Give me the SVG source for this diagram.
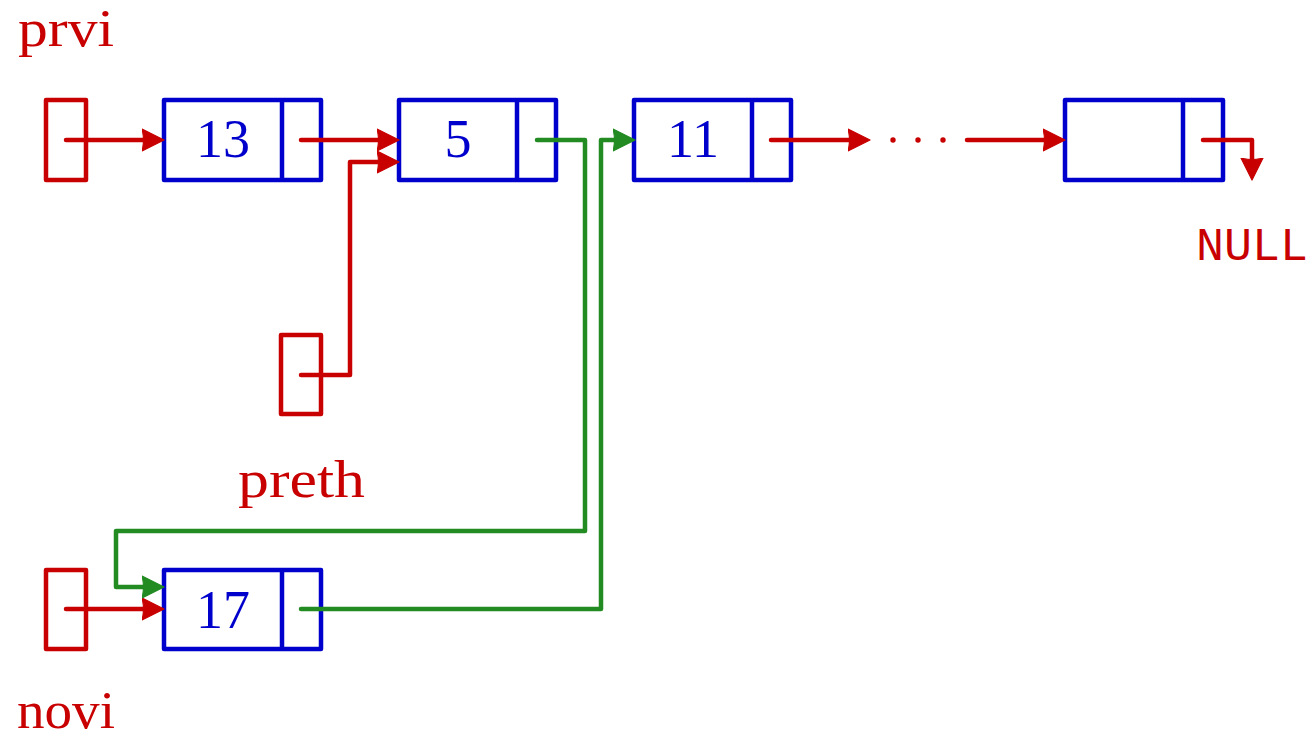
<svg xmlns="http://www.w3.org/2000/svg" width="1312" height="738" viewBox="0 0 1312 738">
<style>
.node{fill:none;stroke:#0000cc;stroke-width:4.5;stroke-linejoin:round}
.ptr{fill:none;stroke:#c80000;stroke-width:4.5;stroke-linejoin:round}
.num{font-family:"Liberation Serif",serif;font-size:54px;fill:#0000cc;text-anchor:middle}
.lbl{font-family:"Liberation Serif",serif;font-size:52px;fill:#c80000}
.red{fill:none;stroke:#c80000;stroke-width:4.5;stroke-linecap:round;stroke-linejoin:round}
.green{fill:none;stroke:#228b22;stroke-width:4.5;stroke-linecap:round;stroke-linejoin:round}
</style>
<defs>
<marker id="ar" viewBox="0 -12 24 24" markerWidth="24" markerHeight="24" refX="11" refY="0" orient="auto" markerUnits="userSpaceOnUse">
<path d="M0,-11 L22,0 L0,11 Q3,0 0,-11 Z" fill="#c80000" stroke="#c80000" stroke-width="1.2" stroke-linejoin="round"/>
</marker>
<marker id="ag" viewBox="0 -12 24 24" markerWidth="24" markerHeight="24" refX="11" refY="0" orient="auto" markerUnits="userSpaceOnUse">
<path d="M0,-11 L22,0 L0,11 Q3,0 0,-11 Z" fill="#228b22" stroke="#228b22" stroke-width="1.2" stroke-linejoin="round"/>
</marker>
</defs>

<g id="prvi">
<rect class="ptr" x="46" y="100" width="40" height="80"/>
<text class="lbl" x="18" y="46" textLength="96" lengthAdjust="spacingAndGlyphs">prvi</text>
</g>
<g id="preth">
<rect class="ptr" x="281" y="335" width="40" height="79"/>
<text class="lbl" x="238" y="497" textLength="127" lengthAdjust="spacingAndGlyphs">preth</text>
</g>
<g id="novi">
<rect class="ptr" x="46" y="570" width="40" height="79"/>
<text class="lbl" x="17" y="728" textLength="98" lengthAdjust="spacingAndGlyphs">novi</text>
</g>

<g id="n13">
<rect class="node" x="164" y="100" width="157" height="80"/>
<line class="node" x1="282" y1="100" x2="282" y2="180"/>
<text class="num" x="223" y="157">13</text>
</g>
<g id="n5">
<rect class="node" x="399" y="100" width="157" height="80"/>
<line class="node" x1="517" y1="100" x2="517" y2="180"/>
<text class="num" x="458" y="157">5</text>
</g>
<g id="n11">
<rect class="node" x="634" y="100" width="157" height="80"/>
<line class="node" x1="752" y1="100" x2="752" y2="180"/>
<text class="num" x="693" y="157">11</text>
</g>
<g id="nlast">
<rect class="node" x="1065" y="100" width="158" height="80"/>
<line class="node" x1="1183" y1="100" x2="1183" y2="180"/>
</g>
<g id="n17">
<rect class="node" x="164" y="570" width="157" height="79"/>
<line class="node" x1="282" y1="570" x2="282" y2="649"/>
<text class="num" x="223" y="628">17</text>
</g>
<g id="null">
<text x="1196" y="260" font-family="'Liberation Mono',monospace" font-size="47" fill="#c80000" textLength="112" lengthAdjust="spacingAndGlyphs">NULL</text>
</g>

<g id="connectors">
<path class="red" d="M66,140 H153" marker-end="url(#ar)"/>
<path class="red" d="M301,140 H388" marker-end="url(#ar)"/>
<path class="red" d="M301,375 H350 V162 H388" marker-end="url(#ar)"/>
<path class="red" d="M771,140 H859" marker-end="url(#ar)"/>
<g fill="#c80000">
<circle cx="893" cy="140" r="2.7"/>
<circle cx="918" cy="140" r="2.7"/>
<circle cx="943" cy="140" r="2.7"/>
</g>
<path class="red" d="M967,140 H1054" marker-end="url(#ar)"/>
<path class="red" d="M1203,140 H1252 V169" marker-end="url(#ar)"/>
<path class="red" d="M66,609 H153" marker-end="url(#ar)"/>
<path class="green" d="M537,140 H585 V531 H116 V587 H153" marker-end="url(#ag)"/>
<path class="green" d="M301,609 H601 V140 H624" marker-end="url(#ag)"/>
</g>
</svg>
